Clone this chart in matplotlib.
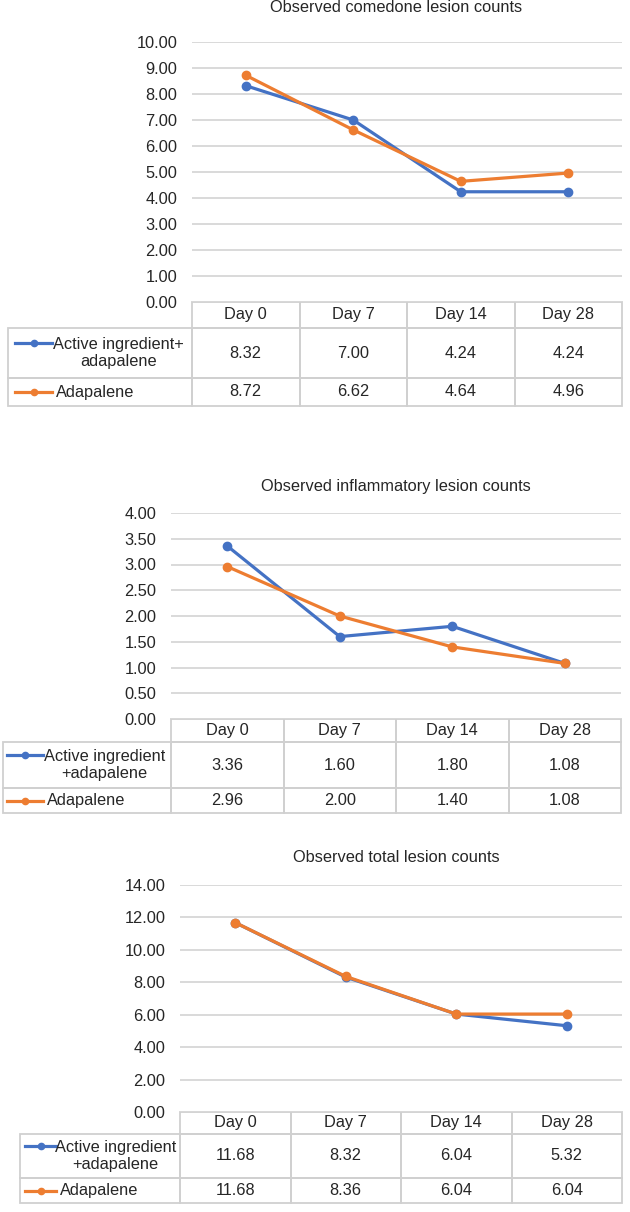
import matplotlib
matplotlib.use('Agg')
import matplotlib.pyplot as plt
from matplotlib.table import Table

plt.rcParams['font.family'] = ['Liberation Sans', 'DejaVu Sans']

days = ['Day 0', 'Day 7', 'Day 14', 'Day 28']

comedone_active = [8.32, 7.00, 4.24, 4.24]
comedone_adapalene = [8.72, 6.62, 4.64, 4.96]

inflam_active = [3.36, 1.60, 1.80, 1.08]
inflam_adapalene = [2.96, 2.00, 1.40, 1.08]

total_active = [11.68, 8.32, 6.04, 5.32]
total_adapalene = [11.68, 8.36, 6.04, 6.04]

titles = ['Observed comedone lesion counts',
          'Observed inflammatory lesion counts',
          'Observed total lesion counts']
active_labels = ['Active ingredient+\nadapalene',
                 'Active ingredient\n+adapalene',
                 'Active ingredient\n+adapalene']
adapalene_label = 'Adapalene'

BLUE = '#4472C4'
ORANGE = '#ED7D31'
GRID = '#d9d9d9'
EDGE = '#d0d0d0'
TXT = '#262626'
FS = 11.8

W, H = 630, 1212

# pixel geometry of each panel
# l, r: plot area; top: y of max gridline; zero: y of 0 gridline
# lab: left of label column; hb, r1, r2: bottoms of header/row1/row2
# k0, k1: legend key; tx: label text start; ty: title y
panels = [
    dict(l=192, r=622, top=42, zero=302, lab=8, hb=328, r1=378, r2=406,
         k0=15, k1=52, tx=53, tx2=56, ty=8, ymax=10, step=1),
    dict(l=171, r=621, top=513, zero=719, lab=3, hb=742, r1=788, r2=813,
         k0=7, k1=43, tx=44, tx2=47, ty=487, ymax=4, step=0.5),
    dict(l=180, r=622, top=885, zero=1112, lab=20, hb=1134, r1=1178, r2=1203,
         k0=25, k1=56, tx=55, tx2=60, ty=857, ymax=14, step=2),
]
series = [(comedone_active, comedone_adapalene),
          (inflam_active, inflam_adapalene),
          (total_active, total_adapalene)]

fig = plt.figure(figsize=(W / 100, H / 100), dpi=100)

for i, p in enumerate(panels):
    l, r, top, zero = p['l'], p['r'], p['top'], p['zero']
    ax = fig.add_axes([l / W, 1 - zero / H, (r - l) / W, (zero - top) / H])

    def fx(px):
        return (px - l) / (r - l)

    def fy(py):
        return (zero - py) / (zero - top)

    act, ada = series[i]
    x = range(len(days))
    ax.plot(x, act, color=BLUE, lw=2.3, marker='o', ms=6, zorder=3)
    ax.plot(x, ada, color=ORANGE, lw=2.3, marker='o', ms=6, zorder=4)

    ax.set_xlim(-0.5, len(days) - 0.5)
    ax.set_ylim(0, p['ymax'])
    ticks = [k * p['step'] for k in range(int(round(p['ymax'] / p['step'])) + 1)]
    ax.set_yticks(ticks)
    ax.set_yticklabels(['%.2f' % t for t in ticks])
    ax.set_xticks([])
    ax.tick_params(axis='y', length=0, pad=10.5, labelsize=FS, labelcolor=TXT)
    ax.grid(axis='y', color=GRID, lw=1.4)
    ax.set_axisbelow(True)
    for s in ax.spines.values():
        s.set_visible(False)

    ax.text(fx(396), fy(p['ty']), titles[i], transform=ax.transAxes,
            ha='center', va='center', fontsize=FS, color=TXT)

    # data table under the plot
    tb = Table(ax, bbox=[fx(p['lab']), fy(p['r2']), fx(r) - fx(p['lab']),
                         fy(zero) - fy(p['r2'])])
    lw_ = l - p['lab']
    cw = (r - l) / len(days)
    heights = [p['hb'] - zero, p['r1'] - p['hb'], p['r2'] - p['r1']]
    rows = [[''] + days,
            [''] + ['%.2f' % v for v in act],
            [''] + ['%.2f' % v for v in ada]]
    for ri, row in enumerate(rows):
        for ci, t in enumerate(row):
            c = tb.add_cell(ri, ci, width=lw_ if ci == 0 else cw,
                            height=heights[ri], text=t, loc='center',
                            edgecolor=EDGE, facecolor='none')
            c.set_linewidth(1.3)
            c.get_text().set_color(TXT)
            if ri == 0 and ci == 0:
                c.visible_edges = ''
    tb.auto_set_font_size(False)
    tb.set_fontsize(FS)
    ax.add_table(tb)

    # legend keys and row labels
    row1_c = (p['hb'] + p['r1']) / 2
    row2_c = (p['r1'] + p['r2']) / 2
    km = (p['k0'] + p['k1']) / 2
    for yk, col in [(row1_c - 10, BLUE), (row2_c, ORANGE)]:
        ax.plot([fx(p['k0']), fx(km), fx(p['k1'])], [fy(yk)] * 3,
                color=col, lw=2.3, marker='o', ms=4.5, markevery=[1],
                transform=ax.transAxes, clip_on=False)
    ax.text(fx(p['tx']), fy(row1_c), active_labels[i], transform=ax.transAxes,
            ha='left', va='center', multialignment='center', linespacing=1.15,
            fontsize=FS, color=TXT)
    ax.text(fx(p['tx2']), fy(row2_c), adapalene_label, transform=ax.transAxes,
            ha='left', va='center', fontsize=FS, color=TXT)

fig.savefig('out.png', dpi=100)
